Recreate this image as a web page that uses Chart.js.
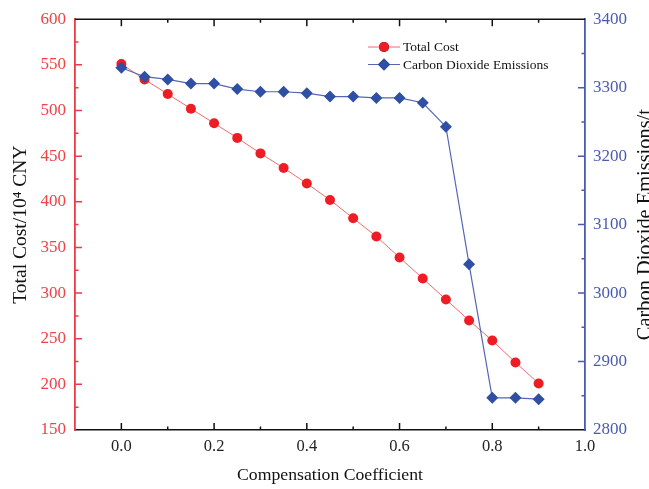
<!DOCTYPE html>
<html>
<head>
<meta charset="utf-8">
<script src="https://cdn.jsdelivr.net/npm/chart.js@4.4.1/dist/chart.umd.min.js"></script>
<style>
  html, body { margin: 0; padding: 0; background: #fff; }
  #wrap { width: 649px; height: 489px; position: relative; }
</style>
</head>
<body>
<div id="wrap"><canvas id="costChart"></canvas></div>
<script>
// compensation coefficient (x) and both series
const coefficients = [0, 0.05, 0.1, 0.15, 0.2, 0.25, 0.3, 0.35, 0.4, 0.45, 0.5, 0.55, 0.6, 0.65, 0.7, 0.75, 0.8, 0.85, 0.9];
const totalCost = [551, 534, 518, 502, 486, 470, 453, 437, 420, 402, 382, 362, 339, 316, 293, 270, 248, 224, 201];
const emissions = [3329, 3316, 3312, 3306, 3306, 3298, 3294, 3294, 3292, 3287, 3287, 3285, 3285, 3278, 3243, 3042, 2847, 2847, 2845];

const xTicks = [0, 0.2, 0.4, 0.6, 0.8, 1.0];
const costTicks = [150, 200, 250, 300, 350, 400, 450, 500, 550, 600];
const emissionTicks = [2800, 2900, 3000, 3100, 3200, 3300, 3400];

const RED = "#ee1c24";
const RED_AXIS = "#ee3a43";
const BLUE = "#2e4fa3";
const BLUE_AXIS = "#4a5ab5";
const SERIF = "'Liberation Serif', 'Times New Roman', serif";
const RIGHT_TITLE = "Carbon Dioxide Emissions/t";

// inward major/minor tick marks on all four sides, plus the top frame line
const frameTicks = {
  id: "frameTicks",
  afterDraw(chart) {
    const { ctx, chartArea: a, scales } = chart;
    const mids = (vals) => vals.slice(1).map((v, i) => (v + vals[i]) / 2);
    ctx.save();
    ctx.lineWidth = 1.5;

    ctx.strokeStyle = "#111";
    ctx.beginPath();
    ctx.moveTo(a.left, a.top);
    ctx.lineTo(a.right, a.top);
    xTicks.forEach(v => {
      const px = scales.x.getPixelForValue(v);
      if (px <= a.left + 1 || px >= a.right - 1) return;
      ctx.moveTo(px, a.bottom); ctx.lineTo(px, a.bottom - 7);
      ctx.moveTo(px, a.top); ctx.lineTo(px, a.top + 7);
    });
    mids(xTicks).forEach(v => {
      const px = scales.x.getPixelForValue(v);
      ctx.moveTo(px, a.bottom); ctx.lineTo(px, a.bottom - 3.5);
      ctx.moveTo(px, a.top); ctx.lineTo(px, a.top + 3.5);
    });
    ctx.stroke();

    ctx.strokeStyle = RED_AXIS;
    ctx.beginPath();
    costTicks.forEach(v => {
      const py = scales.y.getPixelForValue(v);
      if (py <= a.top + 1 || py >= a.bottom - 1) return;
      ctx.moveTo(a.left, py); ctx.lineTo(a.left + 7, py);
    });
    mids(costTicks).forEach(v => {
      const py = scales.y.getPixelForValue(v);
      ctx.moveTo(a.left, py); ctx.lineTo(a.left + 3.5, py);
    });
    ctx.stroke();

    ctx.strokeStyle = BLUE_AXIS;
    ctx.beginPath();
    emissionTicks.forEach(v => {
      const py = scales.y1.getPixelForValue(v);
      if (py <= a.top + 1 || py >= a.bottom - 1) return;
      ctx.moveTo(a.right, py); ctx.lineTo(a.right - 7, py);
    });
    mids(emissionTicks).forEach(v => {
      const py = scales.y1.getPixelForValue(v);
      ctx.moveTo(a.right, py); ctx.lineTo(a.right - 3.5, py);
    });
    ctx.stroke();
    ctx.restore();
  }
};

// right axis title reads bottom-to-top and runs off the canvas edge
const rightTitle = {
  id: "rightTitle",
  afterDraw(chart) {
    const { ctx, chartArea: a } = chart;
    ctx.save();
    ctx.translate(650.5, (a.top + a.bottom) / 2);
    ctx.rotate(-Math.PI / 2);
    ctx.font = "20.4px " + SERIF;
    ctx.fillStyle = "#111";
    ctx.textAlign = "center";
    ctx.textBaseline = "alphabetic";
    ctx.fillText(RIGHT_TITLE, 0, 0);
    ctx.restore();
  }
};

// line + marker legend inside the plot, upper right
const insideLegend = {
  id: "insideLegend",
  afterDraw(chart) {
    const { ctx } = chart;
    const x0 = 368, lineLen = 32, y0 = 47, rowH = 17.5;
    ctx.save();
    ctx.font = "13.5px " + SERIF;
    ctx.textBaseline = "middle";
    chart.data.datasets.forEach((ds, i) => {
      const y = y0 + i * rowH;
      ctx.strokeStyle = ds.borderColor;
      ctx.lineWidth = 1;
      ctx.beginPath();
      ctx.moveTo(x0, y);
      ctx.lineTo(x0 + lineLen, y);
      ctx.stroke();
      Chart.helpers.drawPoint(ctx, {
        pointStyle: ds.pointStyle,
        radius: ds.pointRadius,
        borderWidth: 0
      }, x0 + lineLen / 2, y);
      ctx.fillStyle = ds.pointBackgroundColor;
      ctx.fill();
      ctx.fillStyle = "#111";
      ctx.fillText(ds.label, x0 + lineLen + 3, y + 0.5);
    });
    ctx.restore();
  }
};

new Chart(document.getElementById("costChart"), {
  type: "line",
  data: {
    datasets: [
      {
        label: "Total Cost",
        data: coefficients.map((c, i) => ({ x: c, y: totalCost[i] })),
        yAxisID: "y",
        borderColor: "#f26a6a",
        borderWidth: 1,
        pointStyle: "circle",
        pointRadius: 5,
        pointBackgroundColor: RED,
        pointBorderColor: RED,
        pointBorderWidth: 0,
        tension: 0,
        order: 1
      },
      {
        label: "Carbon Dioxide Emissions",
        data: coefficients.map((c, i) => ({ x: c, y: emissions[i] })),
        yAxisID: "y1",
        borderColor: "#5466b5",
        borderWidth: 1.2,
        pointStyle: "rectRot",
        pointRadius: 6,
        pointBackgroundColor: BLUE,
        pointBorderColor: BLUE,
        pointBorderWidth: 0,
        tension: 0,
        order: 0
      }
    ]
  },
  options: {
    responsive: true,
    maintainAspectRatio: false,
    animation: false,
    layout: { padding: { top: 17, left: 0, right: 0, bottom: 0 } },
    plugins: { legend: { display: false }, tooltip: { enabled: false } },
    scales: {
      x: {
        type: "linear",
        min: -0.1,
        max: 1.0,
        afterBuildTicks: (s) => { s.ticks = xTicks.map(v => ({ value: v })); },
        afterFit: (s) => { s.height = 59; },
        grid: { display: false, drawTicks: false },
        border: { display: true, color: "#111", width: 1.5 },
        ticks: {
          padding: 7,
          color: "#222",
          font: { family: SERIF, size: 16.5 },
          callback: (v) => Number(v).toFixed(1)
        },
        title: {
          display: true,
          text: "Compensation Coefficient",
          color: "#111",
          font: { family: SERIF, size: 17.7 },
          padding: { top: 0, bottom: 3 }
        }
      },
      y: {
        position: "left",
        min: 150,
        max: 600,
        afterBuildTicks: (s) => { s.ticks = costTicks.map(v => ({ value: v })); },
        afterFit: (s) => { s.width = 75; },
        grid: { display: false, drawTicks: false },
        border: { display: true, color: RED_AXIS, width: 1.8 },
        ticks: {
          padding: 9,
          color: "#ef4249",
          font: { family: SERIF, size: 17 },
          callback: (v) => String(v)
        },
        title: {
          display: true,
          text: "Total Cost/10\u2074 CNY",
          color: "#111",
          font: { family: SERIF, size: 19.5 },
          padding: { top: 9, bottom: 0 }
        }
      },
      y1: {
        position: "right",
        min: 2800,
        max: 3400,
        afterBuildTicks: (s) => { s.ticks = emissionTicks.map(v => ({ value: v })); },
        afterFit: (s) => { s.width = 64; },
        grid: { display: false, drawTicks: false },
        border: { display: true, color: BLUE_AXIS, width: 1.8 },
        ticks: {
          padding: 8,
          color: "#4b5bb2",
          font: { family: SERIF, size: 17 },
          callback: (v) => String(v)
        },
        title: { display: false }
      }
    }
  },
  plugins: [frameTicks, rightTitle, insideLegend]
});
</script>
</body>
</html>
